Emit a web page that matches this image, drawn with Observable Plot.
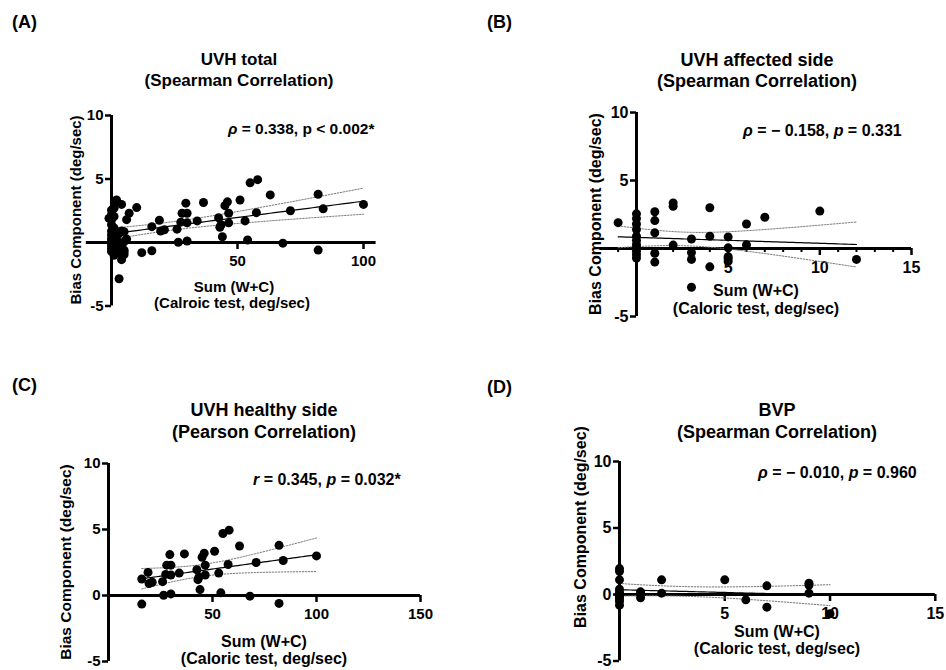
<!DOCTYPE html>
<html><head><meta charset="utf-8">
<script src="https://cdn.jsdelivr.net/npm/d3@7"></script>
<script src="https://cdn.jsdelivr.net/npm/@observablehq/plot@0.6"></script>
<style>
body{margin:0;background:#fff;}
#page{position:relative;width:946px;height:670px;overflow:hidden;font-family:"Liberation Sans",Arial,sans-serif;font-weight:bold;color:#000;background:#fff;}
.t{position:absolute;white-space:nowrap;line-height:1;}
.c{transform:translate(-50%,-50%);text-align:center;}
.l{transform:translate(0,-50%);}
.r{transform:translate(-50%,-50%) rotate(-90deg);}
.q{position:absolute;width:473px;height:335px;}
</style></head>
<body><div id="page"></div>
<script>
// ---- data ----
// UVH affected side: Sum(W+C) vs bias component
const affectedX = [-1, 0,0,0,0,0,0,0,0,0,0,0, 1,1,1,1,1, 2,2,2, 3,3,3,3, 4,4,4, 5,5,5,5,5, 6,6, 7, 10, 12];
const affectedY = [1.9, 2.55,2.2,1.8,1.4,0.9,0.6,0.3,0.1,-0.2,-0.45,-0.7, 2.7,2.05,1.15,-0.35,-1.0, 3.35,3.1,0.25, 0.7,-0.3,-0.8,-2.85, 3.0,0.9,-1.35, 0.85,0.05,-0.6,-0.75,-0.95, 1.8,0.27, 2.3, 2.75, -0.8];
// UVH healthy side
const healthyX = [16,16,19,19.5,21,26,26.5,27.5,28,30,30,30,29.5,34,36.5,42.5,43,43.5,44,45,46,46.5,46.5,51,53,54,55,58,57.5,63,68,71,82,82,84,100];
const healthyY = [1.25,-0.65,1.75,0.9,1.0,1.05,0.02,1.6,2.3,2.3,1.55,0.12,3.1,1.7,3.15,1.95,1.2,1.4,0.45,2.9,3.2,2.3,1.55,3.35,1.7,0.2,4.7,4.95,2.35,3.75,-0.05,2.5,3.8,-0.6,2.65,3.0];
// BVP
const bvpX = [0,0,0,0,0,0,0,0,0,0, 1,1,1, 2,2, 5, 6, 7,7, 9,9,9, 10];
const bvpY = [1.95,1.75,1.1,0.4,0.15,0.0,-0.15,-0.3,-0.5,-0.8, 0.2,0.05,-0.25, 1.1,0.1, 1.1, -0.4, 0.65,-0.95, 0.85,0.7,0.1, -1.45];
// UVH total = affected + healthy
const totalX = affectedX.concat(healthyX);
const totalY = affectedY.concat(healthyY);

const yTicks = [-5, 0, 5, 10];
const yLabelsAB = [-5, 5, 10];
const yLabelsCD = [-5, 0, 5, 10];
const xLabelsA = [50, 100];
const xLabelsB = [5, 10, 15];
const xMinorB = [-1, 1, 2, 3, 4, 6, 7, 8, 9, 11, 12, 13, 14];
const xLabelsC = [50, 100, 150];
const xLabelsD = [5, 10, 15];

const FONT = '"Liberation Sans", Arial, sans-serif';

function fit(xs, ys) {
  const n = xs.length, mx = d3.mean(xs), my = d3.mean(ys);
  let sxx = 0, sxy = 0;
  for (let i = 0; i < n; i++) { sxx += (xs[i]-mx)**2; sxy += (xs[i]-mx)*(ys[i]-my); }
  const b = sxy/sxx, a = my - b*mx;
  let sse = 0;
  for (let i = 0; i < n; i++) sse += (ys[i] - a - b*xs[i])**2;
  const s = Math.sqrt(sse/(n-2)), df = n-2, z = 1.959964;
  const t = z + (z**3+z)/(4*df) + (5*z**5+16*z**3+3*z)/(96*df*df);
  const [lo, hi] = d3.extent(xs);
  return d3.range(61).map(i => {
    const x = lo + (hi-lo)*i/60, yh = a + b*x;
    const se = s*Math.sqrt(1/n + (x-mx)**2/sxx);
    return {x, y: yh, lo: yh - t*se, hi: yh + t*se};
  });
}

function panel(cfg) {
  const pts = cfg.xs.map((x, i) => ({x, y: cfg.ys[i]}));
  const curve = fit(cfg.xs, cfg.ys);
  const ox = cfg.ox, oy = cfg.oy;
  const marks = [
    Plot.ruleY([0], {x1: cfg.xdom[0], x2: cfg.xdom[1], stroke: "black", strokeWidth: 3}),
    Plot.ruleX([0], {y1: -5, y2: 10, stroke: "black", strokeWidth: 3}),
    Plot.ruleY(yTicks, {y: d => d, x1: 0, x2: 0, insetLeft: -6, stroke: "black", strokeWidth: 2.5}),
    Plot.text(cfg.yLabels, {x: 0, y: d => d, text: d => String(d), dx: -8, textAnchor: "end", fontSize: cfg.tickFont, fontWeight: "bold", fill: "black"}),
    Plot.ruleX(cfg.xLabels, {x: d => d, y1: 0, y2: 0, insetBottom: -7, stroke: "black", strokeWidth: 2.5}),
    Plot.text(cfg.xLabels, {x: d => d, y: 0, dy: 19, text: d => String(d), fontSize: cfg.tickFont, fontWeight: "bold", fill: "black"}),
  ];
  if (cfg.minor) marks.push(Plot.ruleX(cfg.minor, {x: d => d, y1: 0, y2: 0, insetBottom: -4, stroke: "black", strokeWidth: 2}));
  marks.push(
    Plot.line(curve, {x: "x", y: "hi", stroke: "#777", strokeWidth: 1, strokeDasharray: "1.5,1.5"}),
    Plot.line(curve, {x: "x", y: "lo", stroke: "#777", strokeWidth: 1, strokeDasharray: "1.5,1.5"}),
    Plot.line(curve, {x: "x", y: "y", stroke: "black", strokeWidth: 1.2}),
    Plot.dot(pts, {x: "x", y: "y", r: 4.5, fill: "black", stroke: "none"})
  );
  const svg = Plot.plot({
    width: 473, height: 335,
    x: {domain: cfg.xdom, range: [cfg.xr[0]-ox, cfg.xr[1]-ox], axis: null},
    y: {domain: [-5, 10], range: [cfg.yr[0]-oy, cfg.yr[1]-oy], axis: null},
    style: {background: "transparent", overflow: "visible", fontFamily: FONT},
    marks
  });
  const q = document.createElement("div");
  q.className = "q"; q.style.left = ox + "px"; q.style.top = oy + "px";
  q.appendChild(svg);
  document.getElementById("page").appendChild(q);
}

panel({xs: totalX, ys: totalY, xdom: [-10, 105], xr: [85.8, 375.6], yr: [305.5, 115], ox: 0, oy: 0, yLabels: yLabelsAB, xLabels: xLabelsA, tickFont: 15});
panel({xs: affectedX, ys: affectedY, xdom: [-2, 15], xr: [599.3, 911], yr: [316, 112], ox: 473, oy: 0, yLabels: yLabelsAB, xLabels: xLabelsB, minor: xMinorB, tickFont: 16});
panel({xs: healthyX, ys: healthyY, xdom: [0, 150], xr: [108, 420], yr: [661, 463], ox: 0, oy: 335, yLabels: yLabelsCD, xLabels: xLabelsC, tickFont: 15});
panel({xs: bvpX, ys: bvpY, xdom: [0, 15], xr: [619, 934.8], yr: [660.5, 461], ox: 473, oy: 335, yLabels: yLabelsCD, xLabels: xLabelsD, tickFont: 16});

// ---- texts ----
const texts = [
  // [html, x, y, class, fontSize]
  ["(A)", 12, 22, "l", 18], ["(B)", 487, 22, "l", 18], ["(C)", 12, 385, "l", 18], ["(D)", 487, 387, "l", 18],
  ["UVH total", 239, 59, "c", 17], ["(Spearman Correlation)", 239, 80, "c", 17],
  ["UVH affected side", 757, 60, "c", 18], ["(Spearman Correlation)", 757, 81, "c", 18],
  ["UVH healthy side", 264, 410, "c", 18], ["(Pearson Correlation)", 264, 432, "c", 18],
  ["BVP", 777, 410, "c", 18], ["(Spearman Correlation)", 777, 432, "c", 18],
  ["<i>ρ</i> = 0.338, p &lt; 0.002*", 228, 129, "l", 15.5],
  ["<i>ρ</i> = − 0.158, <i>p</i> = 0.331", 743, 131, "l", 16],
  ["<i>r</i> = 0.345, <i>p</i> = 0.032*", 253, 480, "l", 16],
  ["<i>ρ</i> = − 0.010, <i>p</i> = 0.960", 758, 473, "l", 16],
  ["Bias Component (deg/sec)", 75, 210, "r", 15],
  ["Bias Component (deg/sec)", 596, 214, "r", 16],
  ["Bias Component (deg/sec)", 66, 562, "r", 15.5],
  ["Bias Component (deg/sec)", 581, 527, "r", 16],
  ["Sum (W+C)", 234, 286, "c", 15], ["(Calroic test, deg/sec)", 232, 302, "c", 15],
  ["Sum (W+C)", 756, 291, "c", 16], ["(Caloric test, deg/sec)", 756, 309, "c", 16],
  ["Sum (W+C)", 264, 642, "c", 16], ["(Caloric test, deg/sec)", 264, 659, "c", 16],
  ["Sum (W+C)", 777, 632, "c", 16], ["(Caloric test, deg/sec)", 777, 649, "c", 16],
];
for (const [h, x, y, cls, fs] of texts) {
  const d = document.createElement("div");
  d.className = "t " + cls;
  d.innerHTML = h;
  d.style.left = x + "px"; d.style.top = y + "px"; d.style.fontSize = fs + "px";
  document.getElementById("page").appendChild(d);
}
</script>
</body></html>
